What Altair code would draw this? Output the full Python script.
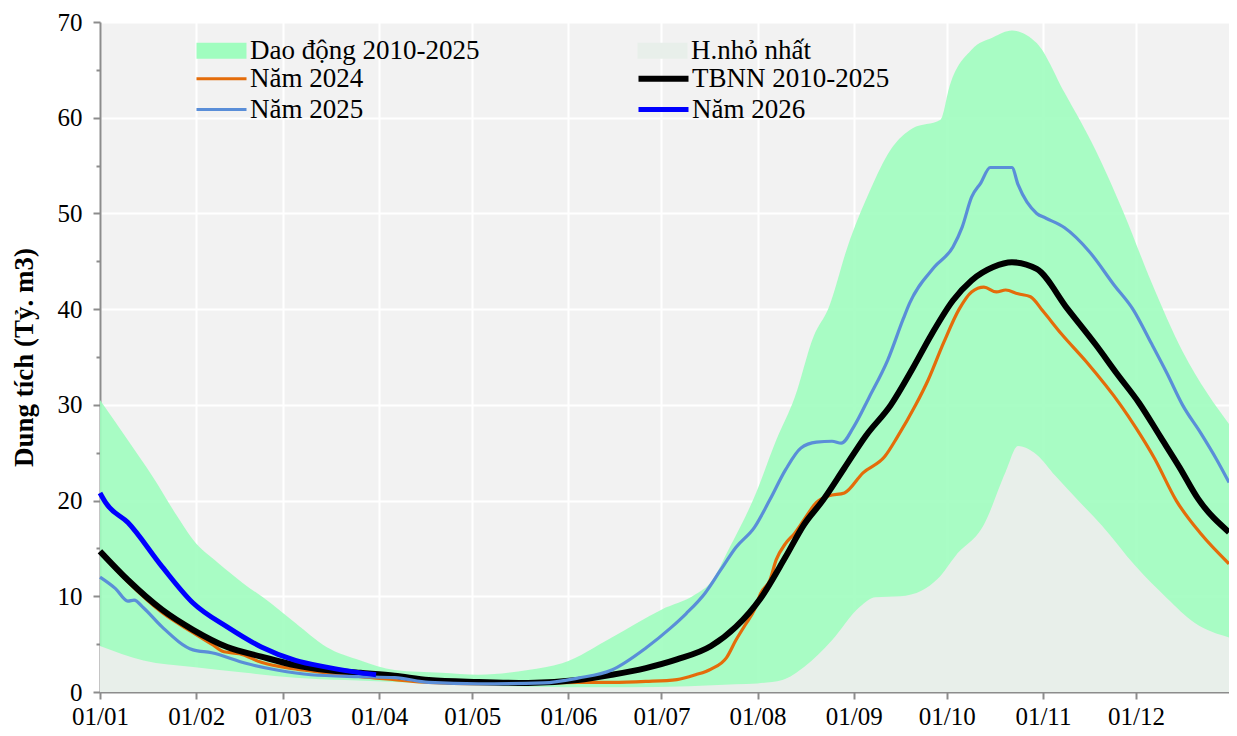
import altair as alt
import pandas as pd

# ---- axis labels ----
month_days = [0, 31, 59, 90, 120, 151, 181, 212, 243, 273, 304, 334]
month_labels = ["01/01", "01/02", "01/03", "01/04", "01/05", "01/06",
                "01/07", "01/08", "01/09", "01/10", "01/11", "01/12"]

# ---- band: max (Dao động) and min (H.nhỏ nhất) ----
max_days = [0, 9, 17, 25, 30, 38, 46, 55, 63, 73, 84, 95, 110, 122, 138, 149, 165, 181, 192, 197,
            203, 211, 218, 224, 230, 235, 241, 248, 255, 262, 271, 274, 281, 288, 294, 302, 311,
            321, 330, 339, 349, 357, 364]
max_vals = [30.5, 26.3, 22.5, 18.3, 15.9, 13.5, 11.4, 9.3, 7.2, 4.7, 3.3, 2.3, 2.0, 1.8, 2.3, 3.0,
            5.7, 8.6, 10.2, 11.5, 15.1, 20.4, 26.3, 30.8, 37.1, 40.2, 46.5, 52.2, 56.7, 58.9, 59.8,
            63.4, 67.1, 68.4, 69.1, 67.8, 62.6, 56.6, 50.1, 42.8, 35.6, 31.2, 28.0]

min_days = [0, 14, 30, 47, 63, 79, 95, 110, 130, 150, 170, 190, 205, 212, 220, 227, 236, 245, 250,
            258, 265, 270, 276, 285, 292, 296, 302, 308, 316, 323, 334, 344, 353, 364]
min_vals = [4.8, 3.3, 2.6, 2.0, 1.5, 1.25, 1.05, 0.8, 0.6, 0.5, 0.5, 0.6, 0.8, 0.9, 1.25, 2.6, 5.4,
            8.9, 9.9, 10.0, 10.6, 11.8, 14.3, 17.5, 23.0, 25.7, 24.8, 22.6, 19.8, 17.4, 13.1, 9.8,
            7.2, 5.7]

# ---- TBNN 2010-2025 ----
tb_days = [0, 9, 20, 30, 41, 52, 63, 73, 84, 95, 106, 122, 138, 154, 165, 176, 186, 197, 205, 213,
           221, 227, 233, 240, 247, 255, 262, 268, 275, 281, 288, 294, 302, 312, 321, 328, 335, 342,
           348, 354, 364]
tb_vals = [14.7, 11.7, 8.6, 6.5, 4.7, 3.7, 2.8, 2.3, 2.0, 1.7, 1.25, 1.05, 0.95, 1.25, 1.8, 2.5,
           3.4, 4.8, 6.8, 9.8, 14.1, 17.5, 20.0, 23.4, 26.8, 30.0, 33.8, 37.3, 40.9, 43.0, 44.4,
           44.9, 44.2, 40.0, 36.3, 33.2, 30.2, 26.6, 23.5, 20.2, 16.7]

# ---- Năm 2024 ----
y24_days = [0, 9, 20, 30, 36, 40, 45, 52, 63, 73, 84, 95, 106, 122, 138, 154, 165, 176, 186, 192,
            197, 202, 205, 208, 211, 213, 216, 218, 221, 224, 227, 231, 235, 240, 246, 253, 257,
            263, 267, 272, 277, 281, 285, 289, 292, 296, 300, 304, 310, 318, 329, 334, 340, 347,
            355, 364]
y24_vals = [14.6, 11.5, 8.3, 6.2, 5.0, 4.2, 4.0, 3.1, 2.4, 2.0, 1.6, 1.3, 1.0, 0.85, 0.9, 1.0, 1.0,
            1.1, 1.3, 1.8, 2.4, 3.6, 5.4, 7.0, 8.6, 10.3, 11.7, 13.8, 15.5, 16.6, 18.0, 19.8, 20.5,
            20.8, 22.9, 24.6, 26.6, 30.0, 32.6, 36.5, 40.0, 41.8, 42.3, 41.8, 42.0, 41.6, 41.3,
            39.8, 37.4, 34.5, 30.0, 27.6, 24.4, 20.0, 16.5, 13.4]

# ---- Năm 2025 ----
y25_days = [0, 5, 9, 11, 14, 20, 30, 36, 47, 57, 68, 84, 95, 106, 122, 143, 154, 165, 176, 184,
            189, 195, 200, 205, 211, 216, 221, 226, 231, 236, 239, 243, 248, 254, 259, 261, 269,
            275, 278, 281, 284, 287, 294, 296, 302, 305, 311, 319, 327, 333, 339, 344, 349, 355,
            360, 364]
y25_vals = [12.0, 10.8, 9.5, 9.6, 8.8, 6.8, 4.4, 4.1, 3.0, 2.3, 1.8, 1.6, 1.5, 1.0, 0.85, 0.95,
            1.45, 2.3, 4.6, 6.7, 8.2, 10.3, 12.7, 15.1, 17.2, 20.1, 23.2, 25.5, 26.1, 26.2, 26.0,
            27.7, 30.8, 34.7, 39.0, 40.6, 44.4, 46.5, 48.6, 51.7, 53.2, 54.8, 54.8, 53.0, 50.0,
            49.5, 48.5, 46.0, 42.5, 40.0, 36.4, 33.3, 30.0, 27.0, 24.3, 21.9]

# ---- Năm 2026 ----
y26_days = [0, 2, 9, 20, 30, 41, 52, 63, 73, 84, 89]
y26_vals = [20.8, 19.7, 17.7, 13.1, 9.3, 6.8, 4.7, 3.3, 2.6, 2.0, 1.8]

band_names = ["Dao động 2010-2025", "H.nhỏ nhất"]
band_colors = ["#a0fdbf", "#e8efea"]
# legend order (column-major, two rows): 2024, 2025 | TBNN, 2026
line_names = ["Năm 2024", "Năm 2025", "TBNN 2010-2025", "Năm 2026"]
line_colors = ["#e46c0a", "#5a8ed8", "#000000", "#0000ff"]
line_widths = [3.2, 3.2, 6, 5]
draw_order = ["Năm 2024", "TBNN 2010-2025", "Năm 2025", "Năm 2026"]

FONT = "Liberation Serif"

band_df = pd.concat([
    pd.DataFrame({"day": max_days, "v": max_vals, "series": band_names[0]}),
    pd.DataFrame({"day": min_days, "v": min_vals, "series": band_names[1]}),
])
line_df = pd.concat([
    pd.DataFrame({"day": y24_days, "v": y24_vals, "series": "Năm 2024"}),
    pd.DataFrame({"day": tb_days, "v": tb_vals, "series": "TBNN 2010-2025"}),
    pd.DataFrame({"day": y25_days, "v": y25_vals, "series": "Năm 2025"}),
    pd.DataFrame({"day": y26_days, "v": y26_vals, "series": "Năm 2026"}),
])

label_expr = ("[" + ",".join("'%s'" % s for s in month_labels) + "][indexof(["
              + ",".join(str(d) for d in month_days) + "], datum.value)]")

AXC = "#8c8c8c"
x_axis = alt.Axis(values=month_days, labelExpr=label_expr, title=None, labelFlush=False,
                  labelFont=FONT, labelFontSize=25, labelColor="black", labelPadding=5,
                  grid=True, gridColor="white", gridWidth=2,
                  domainColor=AXC, domainWidth=2, tickColor=AXC, tickWidth=2, tickSize=7)
y_axis = alt.Axis(values=list(range(0, 71, 5)),
                  labelExpr="datum.value % 10 === 0 ? datum.label : ''",
                  title="Dung tích (Tỷ. m3)", titleFont=FONT, titleFontSize=27,
                  titleFontWeight="bold", titleColor="black", titlePadding=19,
                  labelFont=FONT, labelFontSize=25, labelColor="black", labelPadding=11,
                  grid=True, gridColor="white", gridWidth=2,
                  gridOpacity={"condition": {"test": "datum.value % 10 !== 0", "value": 0}, "value": 1},
                  domainColor=AXC, domainWidth=2, tickColor=AXC, tickWidth=2,
                  tickSize={"condition": {"test": "datum.value % 10 !== 0", "value": 4}, "value": 7})

x_enc = alt.X("day:Q", scale=alt.Scale(domain=[0, 364], nice=False, zero=False), axis=x_axis)
y_enc = alt.Y("v:Q", scale=alt.Scale(domain=[0, 70], nice=False), axis=y_axis)

fill_legend = alt.Legend(title=None, orient="none", legendX=108, legendY=15, columns=2,
                         columnPadding=157, rowPadding=3,
                         symbolType="M-2.5,-0.8L2.5,-0.8L2.5,0.8L-2.5,0.8Z", symbolSize=400,
                         symbolStrokeWidth=0, labelFont=FONT, labelFontSize=27,
                         labelColor="black", labelLimit=500, labelOffset=15)
stroke_legend = alt.Legend(title=None, orient="none", legendX=108, legendY=43, columns=2,
                           columnPadding=262, rowPadding=3,
                           symbolType="M-2.5,0L2.5,0", symbolSize=400,
                           labelFont=FONT, labelFontSize=27, labelColor="black",
                           labelLimit=500, labelOffset=15)

fill_enc = alt.Fill("series:N", scale=alt.Scale(domain=band_names, range=band_colors),
                    legend=fill_legend)

green = alt.Chart(band_df).transform_filter(
    alt.datum.series == band_names[0]
).mark_area(interpolate="monotone", fillOpacity=0.9).encode(x=x_enc, y=y_enc, fill=fill_enc)

grey = alt.Chart(band_df).transform_filter(
    alt.datum.series == band_names[1]
).mark_area(interpolate="monotone").encode(x=x_enc, y=y_enc, fill=fill_enc)

stroke_enc = alt.Stroke("series:N", scale=alt.Scale(domain=line_names, range=line_colors),
                        legend=stroke_legend)
sw_enc = alt.StrokeWidth("series:N",
                         scale=alt.Scale(type="ordinal", domain=line_names, range=line_widths),
                         legend=stroke_legend)

layers = [green, grey]
for name in draw_order:
    layers.append(
        alt.Chart(line_df).transform_filter(alt.datum.series == name)
        .mark_line(interpolate="monotone")
        .encode(x=x_enc, y=y_enc, stroke=stroke_enc, strokeWidth=sw_enc)
    )

chart = alt.layer(*layers).properties(
    width=1129, height=670,
    padding={"left": 92, "top": 14, "right": 0, "bottom": 36},
    autosize="none",
).configure_view(fill="#f2f2f2", stroke=None)

chart.save("out.html", embed_options={"renderer": "svg", "actions": False})
